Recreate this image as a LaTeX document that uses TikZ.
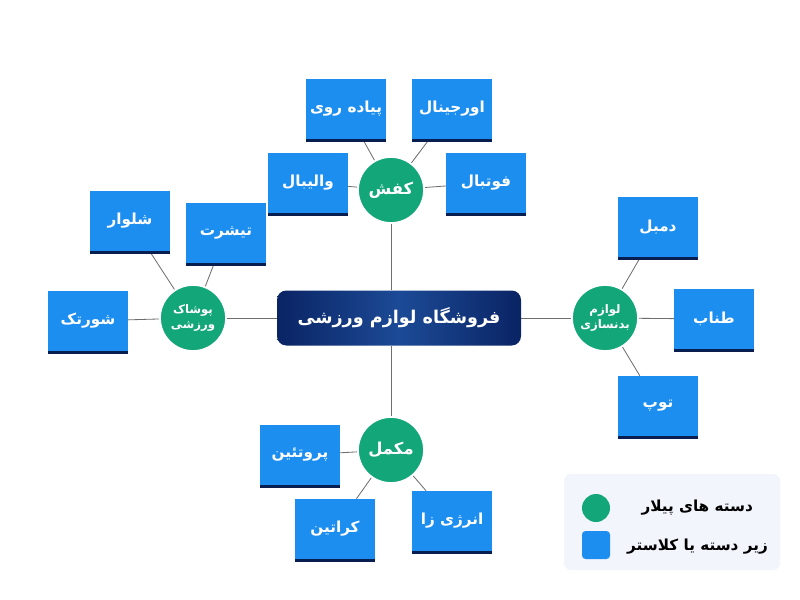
\documentclass[tikz,border=0pt]{standalone}
\usepackage{fontspec}
\newfontfamily\arabicfont[Script=Arabic]{DejaVu Sans}
\TeXXeTstate=1
\definecolor{pgreen}{RGB}{18,166,120}
\definecolor{sblue}{RGB}{28,142,240}
\definecolor{navyA}{RGB}{10,36,100}
\definecolor{navyB}{RGB}{28,74,150}
\definecolor{legbg}{RGB}{243,245,252}
\definecolor{lgray}{RGB}{110,110,110}
\newcommand{\ar}[1]{\arabicfont\beginR #1\endR}
\pgfdeclarelayer{bg}
\pgfsetlayers{bg,main}
\newlength{\unitpx}\setlength{\unitpx}{0.3mm}
\tikzset{
 pillar/.style={circle,fill=pgreen,draw=white,line width=1.5pt,minimum size=66\unitpx,inner sep=0pt,text=white,font=\arabicfont\bfseries\fontsize{10}{12}\selectfont,align=center},
 bigpillar/.style={pillar,font=\arabicfont\bfseries\fontsize{14}{16}\selectfont},
 sub/.style={rectangle,fill=sblue,minimum width=80\unitpx,minimum height=60\unitpx,inner sep=0pt,text=white,font=\arabicfont\bfseries\fontsize{13}{15}\selectfont},
 conn/.style={draw=lgray,line width=0.7pt},
 legtext/.style={anchor=east,font=\arabicfont\bfseries\fontsize{13}{15}\selectfont}
}
\begin{document}
\begin{tikzpicture}[x=0.3mm,y=-0.3mm]
\useasboundingbox (0,0) rectangle (800,600);
\node[rounded corners=8pt,minimum width=244\unitpx,minimum height=55\unitpx,left color=navyA,right color=navyA,middle color=navyB,text=white,font=\arabicfont\bfseries\fontsize{15}{17}\selectfont] (c) at (399,318) {\ar{فروشگاه لوازم ورزشی}};
\node[bigpillar] (k) at (391,190) {\ar{کفش}};
\node[pillar] (p) at (193,318) {\ar{پوشاک}\\\ar{ورزشی}};
\node[pillar] (l) at (605,318) {\ar{لوازم}\\\ar{بدنسازی}};
\node[bigpillar] (m) at (391,450) {\ar{مکمل}};
\foreach \n/\x/\y/\t in {s1/346/109/{پیاده روی},s2/452/109/{اورجینال},s3/308/183/{والیبال},s4/486/183/{فوتبال},
 s5/130/221/{شلوار},s6/226/233/{تیشرت},s7/88/321/{شورتک},
 s8/658/227/{دمبل},s9/714/319/{طناب},s10/658/406/{توپ},
 s11/300/455/{پروتئین},s12/335/529/{کراتین},s13/452/521/{انرژی زا}}
 {\node[sub] (\n) at (\x,\y) {\ar{\t}};
  \fill[navyA!80!black] (\n.south west) rectangle ([yshift=-2pt]\n.south east);}
\begin{pgfonlayer}{bg}
\fill[white] (0,0) rectangle (800,600);
\draw[conn] (k) -- (k |- c.north);
\draw[conn] (m) -- (m |- c.south);
\foreach \a/\b in {c/p,c/l,k/s1,k/s2,k/s3,k/s4,p/s5,p/s6,p/s7,l/s8,l/s9,l/s10,m/s11,m/s12,m/s13}
 \draw[conn] (\a) -- (\b);
\end{pgfonlayer}
\node[fill=legbg,rounded corners=6pt,minimum width=216\unitpx,minimum height=96\unitpx] (lg) at (672,522) {};
\node[circle,fill=pgreen,minimum size=28\unitpx,inner sep=0pt] (lc) at (596,508) {};
\node[rounded corners=3pt,fill=sblue,minimum size=28\unitpx,inner sep=0pt] (ls) at (596,545) {};
\node[legtext] (lt1) at (757,508) {\ar{دسته های پیلار}};
\node[legtext] (lt2) at (772,547) {\ar{زیر دسته یا کلاستر}};
\end{tikzpicture}
\end{document}
